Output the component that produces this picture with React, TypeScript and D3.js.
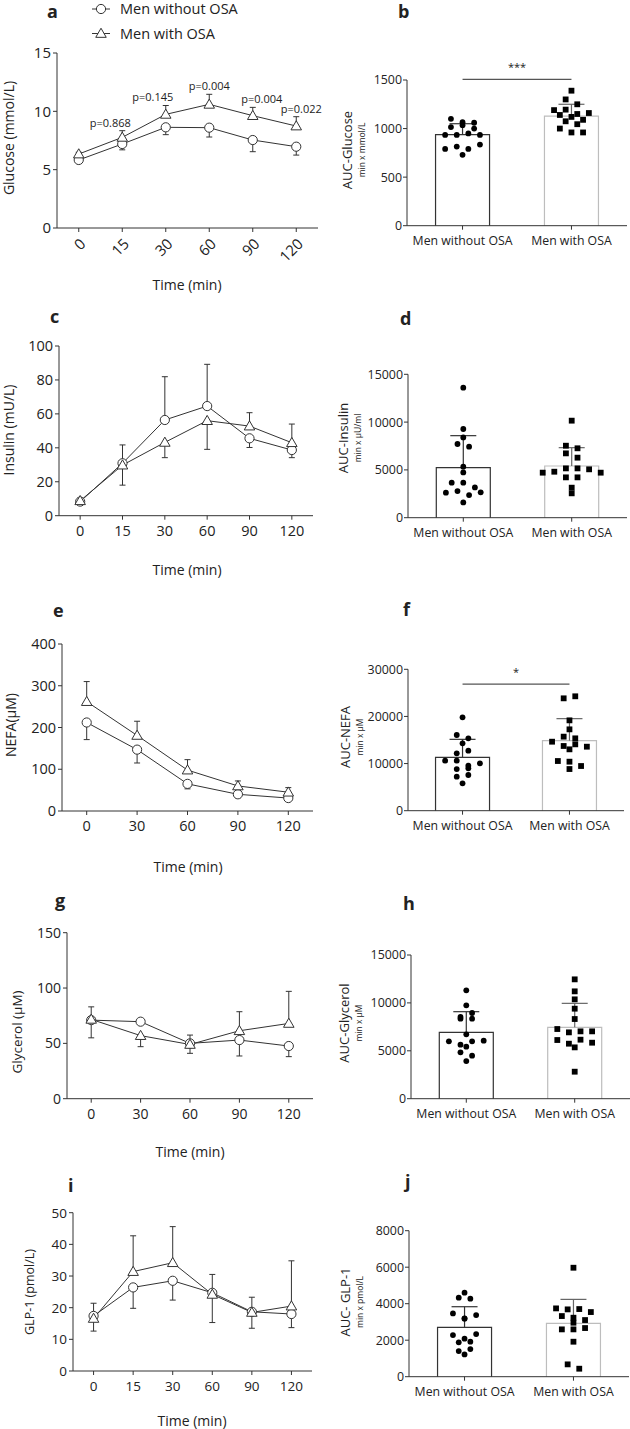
import React from 'react';
import * as d3 from 'd3';

const W = 630;
const H = 1429;
const FONT = "'Open Sans', 'Noto Sans', sans-serif";
const INK = '#333';
const TXT = '#222';
const LIGHT = '#bdbdbd';

// ---------- legend ----------
const groupNames = ['Men without OSA', 'Men with OSA'];

// ---------- a: glucose ----------
const timesA = ['0', '15', '30', '60', '90', '120'];
const glucoseNo = [5.83, 7.2, 8.63, 8.6, 7.54, 6.97];
const glucoseNoSD = [0.2, 0.5, 0.63, 0.8, 1.0, 0.72];
const glucoseOsa = [6.34, 7.77, 9.74, 10.6, 9.63, 8.74];
const glucoseOsaSD = [0.15, 0.57, 0.76, 0.86, 0.71, 0.8];
const glucosePLabels = ['', 'p=0.868', 'p=0.145', 'p=0.004', 'p=0.004', 'p=0.022'];
const glucoseTicks = [0, 5, 10, 15];

// ---------- c: insulin ----------
const insulinNo = [8.3, 30.9, 56.4, 64.6, 45.6, 38.7];
const insulinNoSD = [1.2, 10.8, 25.5, 24.6, 5.4, 4.5];
const insulinOsa = [8.8, 29.8, 43.2, 56.0, 52.8, 43.0];
const insulinOsaSD = [1.5, 11.8, 9.0, 16.9, 7.9, 11.0];
const insulinTicks = [0, 20, 40, 60, 80, 100];

// ---------- e: NEFA ----------
const timesE = ['0', '30', '60', '90', '120'];
const nefaNo = [212, 147, 65, 40, 31];
const nefaNoSD = [41, 32, 12, 8, 5];
const nefaOsa = [262, 181, 98, 60, 45];
const nefaOsaSD = [48, 34, 25, 12, 11];
const nefaTicks = [0, 100, 200, 300, 400];

// ---------- g: glycerol ----------
const glycerolNo = [71, 69.6, 50, 53, 47.6];
const glycerolNoSD = [16, 1.5, 7.5, 14.4, 9.6];
const glycerolOsa = [71.7, 57, 49, 61.4, 68];
const glycerolOsaSD = [11.3, 10, 8, 17.2, 29];
const glycerolTicks = [0, 50, 100, 150];

// ---------- i: GLP-1 ----------
const glpNo = [17.4, 26.4, 28.5, 24.7, 18.7, 18.0];
const glpNoSD = [4, 6.6, 6.1, 5.8, 4.6, 4.3];
const glpOsa = [16.6, 31.4, 34.2, 24.2, 18.5, 20.5];
const glpOsaSD = [4, 11.3, 11.4, 8.9, 5, 14.3];
const glpTicks = [0, 10, 20, 30, 40, 50];

// ---------- b: AUC glucose ----------
const aucGluMean = [937, 1129];
const aucGluSD = [113, 121];
const aucGluNo = [1100, 1065, 1060, 1015, 1035, 1000, 935, 935, 950, 935, 790, 815, 790, 835, 730];
const aucGluOsa = [1390, 1300, 1250, 1190, 1195, 1150, 1160, 1140, 1120, 1075, 1090, 1045, 1000, 960, 960];
const aucGluTicks = [0, 500, 1000, 1500];

// ---------- d: AUC insulin ----------
const aucInsMean = [5233, 5407];
const aucInsSD = [3348, 1919];
const aucInsNo = [13600, 9280, 8400, 7710, 7430, 5340, 4740, 3660, 3660, 3170, 2620, 2790, 2370, 2650, 1600];
const aucInsOsa = [10150, 7530, 7260, 6730, 6280, 4710, 4810, 5160, 5160, 5060, 4710, 4220, 4220, 3140, 2550];
const aucInsTicks = [0, 5000, 10000, 15000];

// ---------- f: AUC NEFA ----------
const aucNefaMean = [11320, 14860];
const aucNefaSD = [3820, 4670];
const aucNefaNo = [19810, 16060, 15350, 14290, 12170, 12740, 10610, 10610, 9550, 10050, 8840, 8990, 7220, 7570, 5800];
const aucNefaOsa = [23840, 24270, 19170, 17260, 15710, 14640, 15350, 13730, 14080, 13020, 13580, 10540, 10400, 8840, 9480];
const aucNefaTicks = [0, 10000, 20000, 30000];

// ---------- h: AUC glycerol ----------
const aucGlyMean = [6925, 7447];
const aucGlySD = [2158, 2506];
const aucGlyNo = [11310, 9744, 8352, 8526, 8352, 8944, 6716, 5986, 5638, 5986, 6055, 5429, 4837, 4489, 3932];
const aucGlyOsa = [12458, 11206, 10370, 9396, 8317, 7273, 6925, 7030, 7030, 6125, 5742, 6160, 5846, 5359, 2819];
const aucGlyTicks = [0, 5000, 10000, 15000];

// ---------- j: AUC GLP-1 ----------
const aucGlpMean = [2702, 2922];
const aucGlpSD = [1133, 1315];
const aucGlpNo = [4602, 4328, 4273, 3469, 3196, 3378, 3177, 2283, 2082, 2337, 1881, 1917, 1406, 1516, 1223];
const aucGlpOsa = [5971, 3743, 3689, 3707, 3542, 3323, 3232, 3104, 2958, 2593, 2593, 2666, 1917, 676, 438];
const aucGlpTicks = [0, 2000, 4000, 6000, 8000];

// ================= components =================
const triPath = d3.symbol(d3.symbolTriangle, 48)() as string;

function Circle({ x, y }: { x: number; y: number }) {
  return <circle cx={x} cy={y} r={4.6} fill="#fff" stroke={INK} strokeWidth={1} />;
}
function Tri({ x, y }: { x: number; y: number }) {
  return <path d={triPath} transform={`translate(${x},${y + 0.8})`} fill="#fff" stroke={INK} strokeWidth={1} />;
}

type LineCfg = {
  letter: string; letterX: number; letterY: number;
  times: string[]; s1: number[]; s1sd: number[]; s2: number[]; s2sd: number[];
  yMax: number; yTicks: number[];
  axisX: number; axisEnd: number; yBottom: number; yTop: number; pad: number;
  tickFont: number; rotate?: boolean;
  yLabel: string; yLabelX: number; yLabelY: number; yLabelFont: number;
  timeX: number; timeY: number;
  pLabels?: string[]; pDx?: number[];
};

function LinePanel({ c }: { c: LineCfg }) {
  const x = d3.scalePoint<string>().domain(c.times).range([c.axisX, c.axisEnd]).padding(c.pad);
  const y = d3.scaleLinear().domain([0, c.yMax]).range([c.yBottom, c.yTop]);
  const line = d3.line<number>().x((_, i) => x(c.times[i]) as number).y((v) => y(v));
  const errs: JSX.Element[] = [];
  c.times.forEach((t, i) => {
    const xi = x(t) as number;
    const up1 = c.s1[i] >= c.s2[i];
    const e1 = up1 ? c.s1[i] + c.s1sd[i] : c.s1[i] - c.s1sd[i];
    const e2 = up1 ? c.s2[i] - c.s2sd[i] : c.s2[i] + c.s2sd[i];
    [[c.s1[i], e1], [c.s2[i], e2]].forEach(([m, e], k) => {
      errs.push(
        <g key={`${i}-${k}`} stroke={INK} strokeWidth={1}>
          <line x1={xi} x2={xi} y1={y(m)} y2={y(e)} />
          <line x1={xi - 3} x2={xi + 3} y1={y(e)} y2={y(e)} />
        </g>
      );
    });
  });
  return (
    <g fontFamily={FONT}>
      <text x={c.letterX} y={c.letterY} fontWeight="bold" fontSize={18} fill={TXT}>{c.letter}</text>
      {/* axes */}
      <line x1={c.axisX} x2={c.axisX} y1={c.yBottom} y2={c.yTop} stroke={INK} />
      <line x1={c.axisX} x2={c.axisEnd} y1={c.yBottom} y2={c.yBottom} stroke={INK} />
      {c.yTicks.map((t) => (
        <g key={t}>
          <line x1={c.axisX - 4} x2={c.axisX} y1={y(t)} y2={y(t)} stroke={INK} />
          <text x={c.axisX - 6} y={y(t)} dy="0.36em" textAnchor="end" fontSize={c.tickFont} fill={TXT}>{t}</text>
        </g>
      ))}
      {c.times.map((t) => {
        const xi = x(t) as number;
        return (
          <g key={t}>
            <line x1={xi} x2={xi} y1={c.yBottom} y2={c.yBottom + 4} stroke={INK} />
            {c.rotate ? (
              <text transform={`translate(${xi + 4},${c.yBottom + 13}) rotate(-45)`} dy="0.36em" textAnchor="end" fontSize={c.tickFont} fill={TXT}>{t}</text>
            ) : (
              <text x={xi} y={c.yBottom + 15} dy="0.36em" textAnchor="middle" fontSize={c.tickFont} fill={TXT}>{t}</text>
            )}
          </g>
        );
      })}
      <text x={c.timeX} y={c.timeY} dy="0.36em" textAnchor="middle" fontSize={14} fill={TXT}>Time (min)</text>
      <text transform={`translate(${c.yLabelX},${c.yLabelY}) rotate(-90)`} dy="0.36em" textAnchor="middle" fontSize={c.yLabelFont} fill={TXT}>{c.yLabel}</text>
      {/* series */}
      <path d={line(c.s1) as string} fill="none" stroke={INK} strokeWidth={1} />
      <path d={line(c.s2) as string} fill="none" stroke={INK} strokeWidth={1} />
      {errs}
      {c.s1.map((v, i) => <Circle key={`c${i}`} x={x(c.times[i]) as number} y={y(v)} />)}
      {c.s2.map((v, i) => <Tri key={`t${i}`} x={x(c.times[i]) as number} y={y(v)} />)}
      {c.pLabels && c.pLabels.map((p, i) => p ? (
        <text key={`p${i}`} x={(x(c.times[i]) as number) + (c.pDx ? c.pDx[i] : 0)} y={y(c.s2[i] + c.s2sd[i]) - 8} dy="0.36em" textAnchor="middle" fontSize={11} fill={TXT}>{p}</text>
      ) : null)}
    </g>
  );
}

type BarCfg = {
  letter: string; letterX: number; letterY: number;
  means: number[]; sds: number[]; dots1: number[]; dots2: number[];
  yMax: number; yTicks: number[];
  axisX: number; axisEnd: number; yBottom: number; yTop: number;
  yLabel: string; ySub: string; yLabelX: number; yLabelY: number;
  sig?: { text: string; value: number };
};

function swarm(values: number[], y: (v: number) => number, step: number, tol: number) {
  const pts = values.map((v, i) => ({ v, i, py: y(v), dx: 0 })).sort((a, b) => a.py - b.py);
  const rows: typeof pts[] = [];
  pts.forEach((p) => {
    const last = rows[rows.length - 1];
    if (last && p.py - last[0].py < tol) last.push(p);
    else rows.push([p]);
  });
  rows.forEach((r) => {
    r.sort((a, b) => a.i - b.i);
    const n = r.length;
    r.forEach((p, k) => { p.dx = (k - (n - 1) / 2) * step; });
  });
  return pts;
}

function BarPanel({ c }: { c: BarCfg }) {
  const x = d3.scalePoint<string>().domain(groupNames).range([c.axisX, c.axisEnd]).padding(0.51);
  const y = d3.scaleLinear().domain([0, c.yMax]).range([c.yBottom, c.yTop]);
  const bw = 54;
  const strokes = [INK, LIGHT];
  const errInk = [INK, '#666'];
  const dots = [c.dots1, c.dots2];
  return (
    <g fontFamily={FONT}>
      <text x={c.letterX} y={c.letterY} fontWeight="bold" fontSize={18} fill={TXT}>{c.letter}</text>
      {groupNames.map((g, gi) => {
        const cx = x(g) as number;
        const top = y(c.means[gi]);
        const et = y(c.means[gi] + c.sds[gi]);
        return (
          <g key={g}>
            <path d={`M${cx - bw / 2},${c.yBottom}V${top}H${cx + bw / 2}V${c.yBottom}`} fill="#fff" stroke={strokes[gi]} strokeWidth={1.2} />
            <line x1={cx} x2={cx} y1={top} y2={et} stroke={errInk[gi]} strokeWidth={1.2} />
            <line x1={cx - 13} x2={cx + 13} y1={et} y2={et} stroke={errInk[gi]} strokeWidth={1.2} />
          </g>
        );
      })}
      {groupNames.map((g, gi) => {
        const cx = x(g) as number;
        const pts = swarm(dots[gi], y, 11.6, 5);
        return (
          <g key={`d${g}`} fill="#000">
            {pts.map((p) => gi === 0 ? (
              <circle key={p.i} cx={cx + p.dx} cy={p.py} r={2.9} />
            ) : (
              <rect key={p.i} x={cx + p.dx - 2.9} y={p.py - 2.9} width={5.8} height={5.8} />
            ))}
          </g>
        );
      })}
      <line x1={c.axisX} x2={c.axisX} y1={c.yBottom} y2={c.yTop} stroke={INK} />
      <line x1={c.axisX} x2={c.axisEnd} y1={c.yBottom} y2={c.yBottom} stroke={INK} />
      {c.yTicks.map((t) => (
        <g key={t}>
          <line x1={c.axisX - 4} x2={c.axisX} y1={y(t)} y2={y(t)} stroke={INK} />
          <text x={c.axisX - 5} y={y(t)} dy="0.36em" textAnchor="end" fontSize={12.4} fill={TXT}>{t}</text>
        </g>
      ))}
      {groupNames.map((g) => {
        const cx = x(g) as number;
        return (
          <g key={`x${g}`}>
            <line x1={cx} x2={cx} y1={c.yBottom} y2={c.yBottom + 4} stroke={INK} />
            <text x={cx} y={c.yBottom + 14.5} dy="0.36em" textAnchor="middle" fontSize={12.3} fill={TXT}>{g}</text>
          </g>
        );
      })}
      <text transform={`translate(${c.yLabelX},${c.yLabelY}) rotate(-90)`} dy="0.36em" textAnchor="middle" fontSize={13} fill={TXT}>{c.yLabel}</text>
      <text transform={`translate(${c.yLabelX + 15},${c.yLabelY}) rotate(-90)`} dy="0.36em" textAnchor="middle" fontSize={8.5} fill={TXT}>{c.ySub}</text>
      {c.sig && (
        <g>
          <line x1={x(groupNames[0]) as number} x2={x(groupNames[1]) as number} y1={y(c.sig.value)} y2={y(c.sig.value)} stroke="#555" strokeWidth={1.2} />
          <text x={((x(groupNames[0]) as number) + (x(groupNames[1]) as number)) / 2} y={y(c.sig.value) - 8} textAnchor="middle" fontSize={11} fill={TXT}>{c.sig.text}</text>
        </g>
      )}
    </g>
  );
}

const lineA: LineCfg = {
  letter: 'a', letterX: 47, letterY: 18,
  times: timesA, s1: glucoseNo, s1sd: glucoseNoSD, s2: glucoseOsa, s2sd: glucoseOsaSD,
  yMax: 15, yTicks: glucoseTicks, axisX: 57, axisEnd: 318, yBottom: 228, yTop: 53, pad: 0.5,
  tickFont: 15, rotate: true,
  yLabel: 'Glucose (mmol/L)', yLabelX: 9, yLabelY: 138, yLabelFont: 14,
  timeX: 187, timeY: 285,
  pLabels: glucosePLabels, pDx: [0, -12, -13, 0, 9, 5],
};
const lineC: LineCfg = {
  letter: 'c', letterX: 50, letterY: 323,
  times: timesA, s1: insulinNo, s1sd: insulinNoSD, s2: insulinOsa, s2sd: insulinOsaSD,
  yMax: 100, yTicks: insulinTicks, axisX: 59, axisEnd: 313, yBottom: 515.7, yTop: 346, pad: 0.5,
  tickFont: 14.5,
  yLabel: 'Insulin (mU/L)', yLabelX: 9, yLabelY: 430, yLabelFont: 14,
  timeX: 187, timeY: 570,
};
const lineE: LineCfg = {
  letter: 'e', letterX: 53, letterY: 617,
  times: timesE, s1: nefaNo, s1sd: nefaNoSD, s2: nefaOsa, s2sd: nefaOsaSD,
  yMax: 400, yTicks: nefaTicks, axisX: 62, axisEnd: 313, yBottom: 811, yTop: 644, pad: 0.49,
  tickFont: 14.5,
  yLabel: 'NEFA(\u00b5M)', yLabelX: 11, yLabelY: 725, yLabelFont: 14,
  timeX: 188, timeY: 867,
};
const lineG: LineCfg = {
  letter: 'g', letterX: 55, letterY: 907,
  times: timesE, s1: glycerolNo, s1sd: glycerolNoSD, s2: glycerolOsa, s2sd: glycerolOsaSD,
  yMax: 150, yTicks: glycerolTicks, axisX: 67, axisEnd: 313, yBottom: 1098.7, yTop: 932.7, pad: 0.49,
  tickFont: 14,
  yLabel: 'Glycerol (\u00b5M)', yLabelX: 17, yLabelY: 1032, yLabelFont: 13.5,
  timeX: 190, timeY: 1152,
};
const lineI: LineCfg = {
  letter: 'i', letterX: 68, letterY: 1192,
  times: timesA, s1: glpNo, s1sd: glpNoSD, s2: glpOsa, s2sd: glpOsaSD,
  yMax: 50, yTicks: glpTicks, axisX: 73, axisEnd: 312, yBottom: 1371, yTop: 1212.7, pad: 0.52,
  tickFont: 13.5,
  yLabel: 'GLP-1  (pmol/L)', yLabelX: 29, yLabelY: 1292, yLabelFont: 12.5,
  timeX: 192, timeY: 1421,
};

const barB: BarCfg = {
  letter: 'b', letterX: 398, letterY: 18,
  means: aucGluMean, sds: aucGluSD, dots1: aucGluNo, dots2: aucGluOsa,
  yMax: 1500, yTicks: aucGluTicks, axisX: 407, axisEnd: 627, yBottom: 225.7, yTop: 80,
  yLabel: 'AUC-Glucose', ySub: 'min x mmol/L', yLabelX: 347, yLabelY: 150,
  sig: { text: '***', value: 1507 },
};
const barD: BarCfg = {
  letter: 'd', letterX: 400, letterY: 325,
  means: aucInsMean, sds: aucInsSD, dots1: aucInsNo, dots2: aucInsOsa,
  yMax: 15000, yTicks: aucInsTicks, axisX: 408, axisEnd: 627, yBottom: 517.7, yTop: 374.3,
  yLabel: 'AUC-Insulin', ySub: 'min x \u00b5U/ml', yLabelX: 343, yLabelY: 438,
};
const barF: BarCfg = {
  letter: 'f', letterX: 403, letterY: 616,
  means: aucNefaMean, sds: aucNefaSD, dots1: aucNefaNo, dots2: aucNefaOsa,
  yMax: 30000, yTicks: aucNefaTicks, axisX: 408, axisEnd: 624, yBottom: 810.7, yTop: 669.3,
  yLabel: 'AUC-NEFA', ySub: 'min x \u00b5M', yLabelX: 345, yLabelY: 737,
  sig: { text: '*', value: 26840 },
};
const barH: BarCfg = {
  letter: 'h', letterX: 403, letterY: 910,
  means: aucGlyMean, sds: aucGlySD, dots1: aucGlyNo, dots2: aucGlyOsa,
  yMax: 15000, yTicks: aucGlyTicks, axisX: 411, axisEnd: 630, yBottom: 1098.7, yTop: 955,
  yLabel: 'AUC-Glycerol', ySub: 'min x \u00b5M', yLabelX: 344, yLabelY: 1023,
};
const barJ: BarCfg = {
  letter: 'j', letterX: 405, letterY: 1188,
  means: aucGlpMean, sds: aucGlpSD, dots1: aucGlpNo, dots2: aucGlpOsa,
  yMax: 8000, yTicks: aucGlpTicks, axisX: 409, axisEnd: 629, yBottom: 1376.7, yTop: 1230.7,
  yLabel: 'AUC- GLP-1', ySub: 'min x pmol/L', yLabelX: 345, yLabelY: 1302,
};

function Legend() {
  return (
    <g fontFamily={FONT}>
      {groupNames.map((g, i) => {
        const ly = 9 + i * 24.5;
        return (
          <g key={g}>
            <line x1={92} x2={110} y1={ly} y2={ly} stroke={INK} />
            {i === 0 ? <Circle x={101} y={ly} /> : <Tri x={101} y={ly} />}
            <text x={120} y={ly} dy="0.36em" fontSize={14.5} fill={TXT}>{g}</text>
          </g>
        );
      })}
    </g>
  );
}

export default function App() {
  return (
    <svg width={W} height={H} style={{ position: 'absolute', left: 0, top: 0, background: '#fff' }}>
      <rect width={W} height={H} fill="#fff" />
      <Legend />
      <LinePanel c={lineA} />
      <LinePanel c={lineC} />
      <LinePanel c={lineE} />
      <LinePanel c={lineG} />
      <LinePanel c={lineI} />
      <BarPanel c={barB} />
      <BarPanel c={barD} />
      <BarPanel c={barF} />
      <BarPanel c={barH} />
      <BarPanel c={barJ} />
    </svg>
  );
}
